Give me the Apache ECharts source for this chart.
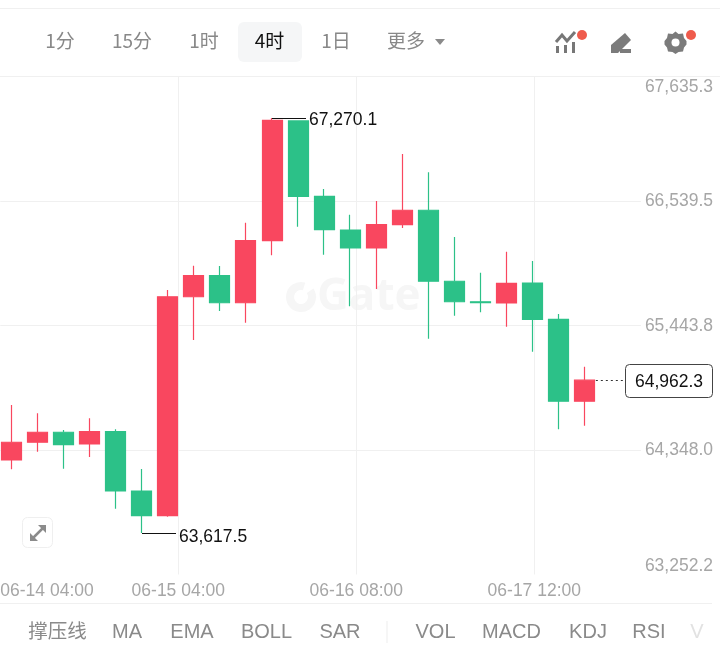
<!DOCTYPE html>
<html><head><meta charset="utf-8">
<style>html,body{margin:0;padding:0;background:#fff}#c{width:720px;height:650px}</style>
<script src="https://cdn.jsdelivr.net/npm/echarts@6/dist/echarts.min.js"></script>
</head><body><div id="c"></div>
<script>
var candleLabels = ['c0','c1','c2','c3','c4','c5','c6','c7','c8','c9','c10','c11','c12','c13','c14','c15','c16','c17','c18','c19','c20','c21','c22'];
var opens  = [64260,64416,64504,64401,64509,63987,63770,65697,65882,65644,66190,67244,66581,66284,66126,66331,66458,65833,65653,65642,65818,65498,64777];
var closes = [64416,64504,64395,64509,63987,63770,65697,65882,65644,66190,67250,66581,66287,66126,66331,66458,65833,65653,65644,65815,65498,64777,64962.3];
var lows   = [64178,64333,64183,64286,63831,63617.5,63761,65316,65571,65468,66062,66313,66067,65613,65765,66302,65328,65530,65560,65433,65213,64530,64562];
var highs  = [64744,64671,64524,64627,64530,64181,65756,65970,65967,66348,67270.1,67250,66645,66419,66539,66953,66792,66223,65908,66093,66011,65545,65081];
var priceTicks = [63252.2,64348.0,65443.8,66539.5,67635.3];
var timeLabels = ['06-14 04:00','06-15 04:00','06-16 08:00','06-17 12:00',''];
var extremes = [[10,67270.1],[5,63617.5]];
var lastPrice = [[22,64962.3]];
var tabs = [['1分',60],['15分',132],['1时',204],['4时',269.5],['1日',336],['更多',406]];
var indicators = [['撑压线',57.5],['MA',127],['EMA',192],['BOLL',266.5],['SAR',340],['VOL',435.5],['MACD',511.5],['KDJ',588],['RSI',649]];

var RED='#f9475f', GREEN='#2cc188', GRID='#f0f0f0', GREY='#a6a6a6', LATIN='"Liberation Sans"';
function fmt(v){return v.toLocaleString('en-US',{minimumFractionDigits:1,maximumFractionDigits:1});}

var step=26.07, left=11.3-step/2;
var gear=[[0,-11],[3,-8.5],[7.5,-9],[8.5,-4.5],[11,-1.5],[11,2],[8.5,5],[7.5,9],[3,9.5],[0,11.5],[-3,9.5],[-7.5,9],[-8.5,5],[-11,2],[-11,-1.5],[-8.5,-4.5],[-7.5,-9],[-3,-8.5]];
var graphics=[
 {type:'rect',z:0,shape:{x:0,y:8,width:720,height:1},style:{fill:'#f0f0f0'},silent:true},
 {type:'rect',z:0,shape:{x:0,y:76,width:720,height:1},style:{fill:'#f0f0f0'},silent:true},
 {type:'rect',z:0,shape:{x:0,y:603,width:712,height:1},style:{fill:'#f0f0f0'},silent:true},
 {type:'rect',z:0,shape:{x:386.5,y:621,width:1,height:22},style:{fill:'#eeeeee'},silent:true},
 {type:'rect',z:0,shape:{x:238,y:22,width:64,height:40,r:6},style:{fill:'#f5f6f7'},silent:true},
 // watermark
 {type:'text',z:0,x:317,y:297,style:{text:'Gate',font:'bold 44px "Open Sans"',fill:'#f6f6f6',verticalAlign:'middle'},silent:true},
 {type:'arc',z:0,shape:{cx:301,cy:297,r:11,startAngle:-0.6,endAngle:5.0,clockwise:true},style:{stroke:'#f6f6f6',lineWidth:8,fill:null},silent:true},
 // triangle
 {type:'polygon',z:5,shape:{points:[[435,39],[445,39],[440,45]]},style:{fill:'#8a8a8a'},silent:true},
 // indicator icon
 {type:'polyline',z:5,shape:{points:[[556,42],[562,35],[567,41],[575,32]]},style:{stroke:'#777',lineWidth:3,fill:null},silent:true},
 {type:'rect',z:5,shape:{x:556,y:46,width:3,height:7},style:{fill:'#777'},silent:true},
 {type:'rect',z:5,shape:{x:564,y:45,width:3,height:8},style:{fill:'#777'},silent:true},
 {type:'rect',z:5,shape:{x:572,y:42,width:3,height:11},style:{fill:'#777'},silent:true},
 {type:'circle',z:6,shape:{cx:582,cy:35,r:5},style:{fill:'#ef5b4c'},silent:true},
 // pen icon
 {type:'polygon',z:5,shape:{points:[[611,45],[625,33],[631,40],[618,53],[611,53]]},style:{fill:'#7b7b7b'},silent:true},
 {type:'rect',z:5,shape:{x:620,y:49,width:11,height:4},style:{fill:'#7b7b7b'},silent:true},
 // gear icon
 {type:'polygon',z:5,x:675.5,y:42.5,shape:{points:gear},style:{fill:'#7b7b7b'},silent:true},
 {type:'circle',z:6,shape:{cx:675.5,cy:42.5,r:4},style:{fill:'#fff'},silent:true},
 {type:'circle',z:7,shape:{cx:691,cy:35,r:5},style:{fill:'#ef5b4c'},silent:true},
 // expand button
 {type:'rect',z:5,shape:{x:22.5,y:517.5,width:30,height:30,r:5},style:{fill:'#fff',stroke:'#efefef',lineWidth:1},silent:true},
 {type:'polyline',z:6,shape:{points:[[33,538],[43,528]]},style:{stroke:'#8b8b8b',lineWidth:2.5,fill:null},silent:true},
 {type:'polygon',z:6,shape:{points:[[30,533],[30,541],[38,541]]},style:{fill:'#8b8b8b'},silent:true},
 {type:'polygon',z:6,shape:{points:[[46,533],[46,525],[38,525]]},style:{fill:'#8b8b8b'},silent:true},
 {type:'text',z:5,x:697,y:632,style:{text:'V',font:'20px '+LATIN,fill:'#e2e2e2',align:'center',verticalAlign:'middle'},silent:true}
];
tabs.forEach(function(t){
 var on=t[0]==='4时';
 graphics.push({type:'text',z:5,x:t[1],y:41,style:{text:t[0],font:'19px "Noto Sans CJK SC"',fill:on?'#111':'#888',align:'center',verticalAlign:'middle'},silent:true});
});
indicators.forEach(function(t){
 var cjk=t[0]==='撑压线';
 graphics.push({type:'text',z:5,x:t[1],y:cjk?631:632,style:{text:t[0],font:cjk?'19.5px "Noto Sans CJK SC"':'20px '+LATIN,fill:'#8a8a8a',align:'center',verticalAlign:'middle'},silent:true});
});

var chart=echarts.init(document.getElementById('c'),null,{renderer:'canvas'});
chart.setOption({
 animation:false,backgroundColor:'#fff',
 graphic:graphics,
 grid:[
  {left:left,width:step*30,top:76.5,height:498,containLabel:false,outerBoundsMode:'none'},
  {left:0.3,width:178*4,top:76.5,height:498,containLabel:false,outerBoundsMode:'none'}
 ],
 xAxis:[
  {type:'category',gridIndex:0,data:candleLabels.concat(['','','','','','','']),boundaryGap:true,
   axisLine:{show:false},axisTick:{show:false},axisLabel:{show:false},splitLine:{show:false}},
  {type:'category',gridIndex:1,data:timeLabels,boundaryGap:false,
   axisLine:{show:false},axisTick:{show:false},
   axisLabel:{interval:0,color:GREY,fontSize:17.5,fontFamily:'Liberation Sans',margin:8,alignMinLabel:'left',showMinLabel:true,showMaxLabel:false,hideOverlap:false},
   splitLine:{show:true,interval:0,showMinLine:false,showMaxLine:false,lineStyle:{color:GRID,width:1}}}
 ],
 yAxis:[
  {type:'value',gridIndex:0,min:priceTicks[0],max:priceTicks[4],position:'right',
   axisLine:{show:false},axisTick:{show:false},splitLine:{show:false},axisLabel:{show:false}},
  {type:'value',gridIndex:1,min:priceTicks[0],max:priceTicks[4],position:'left',
   axisLine:{show:false},axisTick:{show:false,customValues:priceTicks},
   axisLabel:{inside:true,show:false,customValues:priceTicks},
   splitLine:{show:true,showMinLine:false,showMaxLine:false,lineStyle:{color:GRID,width:1}}}
 ],
 series:[
  {type:'candlestick',xAxisIndex:0,yAxisIndex:0,barWidth:20.5,z:3,
   data:opens.map(function(o,i){return [o,closes[i],lows[i],highs[i]];}),
   itemStyle:{color:RED,color0:GREEN,borderColor:RED,borderColor0:GREEN,borderWidth:1.2},
   silent:true},
  {type:'custom',xAxisIndex:0,yAxisIndex:0,z:4,silent:true,clip:false,
   data:priceTicks.map(function(v,i){return [0,v,i];}),
   renderItem:function(p,api){
    var v=api.value(1),i=api.value(2),y=api.coord([0,v])[1];
    var off=i===0?-8:(i===4?11:0.5);
    return {type:'text',style:{text:fmt(v),x:713,y:y+off,align:'right',verticalAlign:'middle',
      font:'17.5px '+LATIN,fill:GREY,backgroundColor:'#fff',padding:[0,0,0,4]}};
   }},
  {type:'custom',xAxisIndex:0,yAxisIndex:0,z:5,silent:true,clip:false,
   data:extremes,
   renderItem:function(p,api){
    var c=api.coord([api.value(0),api.value(1)]),x=Math.round(c[0]),y=Math.round(c[1])+0.5;
    return {type:'group',children:[
     {type:'line',shape:{x1:x,y1:y,x2:x+34,y2:y},style:{stroke:'#111',lineWidth:1}},
     {type:'text',style:{text:fmt(api.value(1)),x:x+37,y:y+(p.dataIndex===1?4:2),verticalAlign:'middle',font:'17.5px '+LATIN,fill:'#111'}}
    ]};
   }},
  {type:'custom',xAxisIndex:0,yAxisIndex:0,z:5,silent:true,clip:false,
   data:lastPrice,
   renderItem:function(p,api){
    var c=api.coord([api.value(0),api.value(1)]),y=Math.round(c[1])+0.5;
    return {type:'group',children:[
     {type:'line',shape:{x1:c[0]+11,y1:y,x2:625,y2:y},style:{stroke:'#333',lineWidth:1,lineDash:[2,3]}},
     {type:'rect',shape:{x:625.5,y:y-16,width:87,height:33,r:4},style:{fill:'#fff',stroke:'#444',lineWidth:1}},
     {type:'text',style:{text:fmt(api.value(1)),x:669,y:y+1.5,align:'center',verticalAlign:'middle',font:'17.5px '+LATIN,fill:'#111'}}
    ]};
   }}
 ]
});
</script></body></html>
